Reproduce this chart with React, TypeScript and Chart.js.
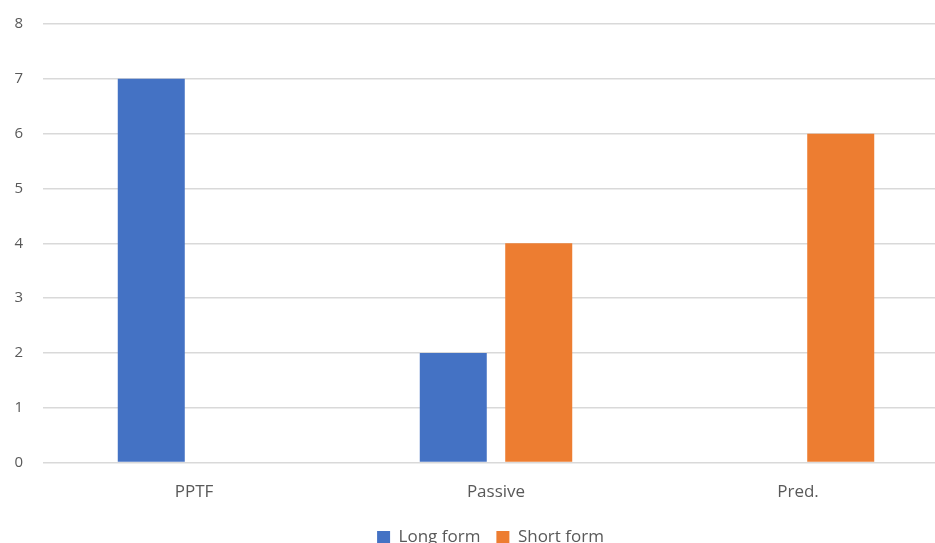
import React, { useEffect, useRef } from "react";
import { Chart, registerables } from "chart.js";

Chart.register(...registerables);

const categories = ["PPTF", "Passive", "Pred."];
const longForm = [7, 2, 0];
const shortForm = [0, 4, 6];
const yTicks = [0, 1, 2, 3, 4, 5, 6, 7, 8];

const shiftLegend = {
  id: "shiftLegend",
  afterLayout(chart: any) {
    if (chart.legend) {
      chart.legend.left += 12;
      chart.legend.right += 12;
    }
  },
};

export default function App() {
  const ref = useRef<HTMLCanvasElement>(null);
  useEffect(() => {
    document.body.style.overflow = "hidden";
    const chart = new Chart(ref.current!, {
      type: "bar",
      data: {
        labels: categories,
        datasets: [
          { label: "Long form", data: longForm, backgroundColor: "#4472C4", categoryPercentage: 0.566, barPercentage: 0.784 },
          { label: "Short form", data: shortForm, backgroundColor: "#ED7D31", categoryPercentage: 0.566, barPercentage: 0.784 },
        ],
      },
      plugins: [shiftLegend],
      options: {
        animation: false,
        responsive: false,
        layout: { padding: { top: 24, right: 0, left: 0, bottom: 0 } },
        plugins: {
          legend: {
            position: "bottom",
            labels: {
              boxWidth: 13,
              boxHeight: 13,
              padding: 16,
              color: "#595959",
              font: { family: "Open Sans", size: 17 },
            },
          },
          tooltip: { enabled: false },
        },
        scales: {
          x: {
            grid: { display: false },
            border: { display: false },
            ticks: { color: "#595959", font: { family: "Open Sans", size: 17 }, padding: 11 },
          },
          y: {
            min: 0,
            max: 8,
            afterBuildTicks: (axis: any) => {
              axis.ticks = yTicks.map((v) => ({ value: v }));
            },
            afterFit: (axis: any) => {
              axis.width = 35;
              axis.paddingTop = 0;
              axis.paddingBottom = 0;
            },
            grid: { color: "#d9d9d9", lineWidth: 1.5, drawTicks: false },
            border: { display: false },
            ticks: { color: "#595959", font: { family: "Open Sans", size: 15 }, padding: 20, crossAlign: "near" },
          },
        },
      },
    });
    return () => chart.destroy();
  }, []);
  return (
    <div style={{ position: "absolute", left: 8, top: 0, width: 941, height: 556 }}>
      <canvas ref={ref} width={941} height={556} />
    </div>
  );
}
